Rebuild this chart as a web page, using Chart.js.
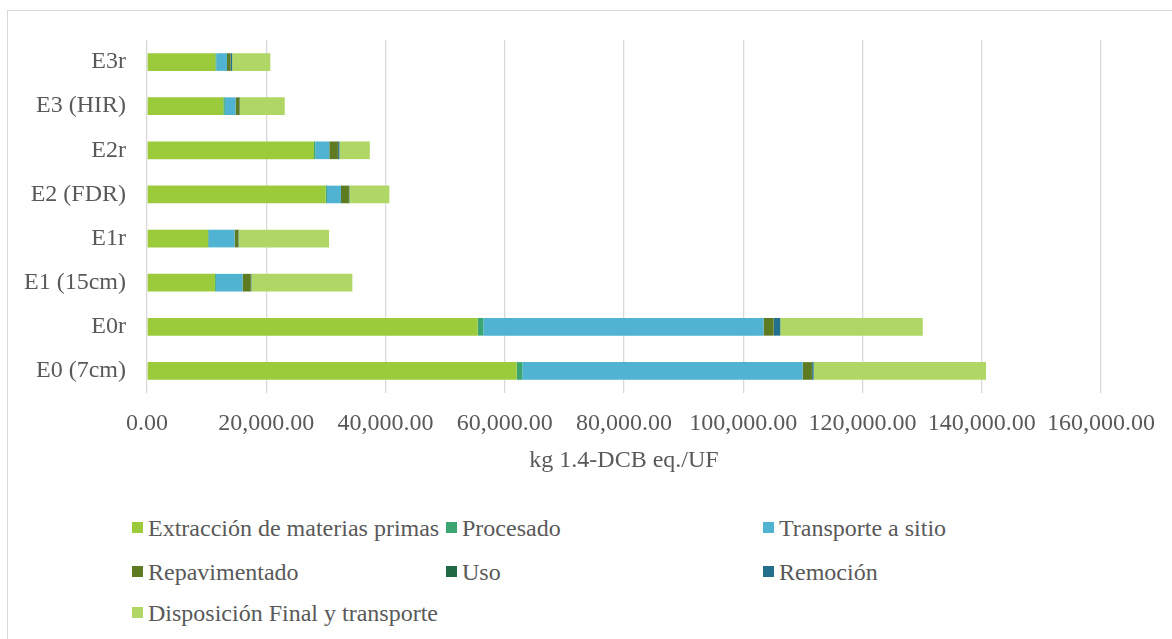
<!DOCTYPE html>
<html>
<head>
<meta charset="utf-8">
<script src="https://cdn.jsdelivr.net/npm/chart.js@4.4.1/dist/chart.umd.min.js"></script>
<style>
	html, body { margin: 0; padding: 0; background: #fff; overflow: hidden; }
	#wrap { position: relative; width: 1172px; height: 639px; overflow: hidden; }
	#frame { position: absolute; left: 7px; top: 10px; width: 1200px; height: 700px; border: 1px solid #d9d9d9; }
	#myChart { position: absolute; left: 0; top: 0; }
	#legend { position: absolute; left: 0; top: 0; }
	.lg-item { position: absolute; height: 30px; line-height: 30px; white-space: nowrap;
		font-family: "Liberation Serif", "Times New Roman", serif; font-size: 24px; color: #595959; }
	.lg-box { position: absolute; left: 0; top: 9px; width: 11px; height: 11px; }
	.lg-text { position: absolute; left: 16px; top: 0; }
</style>
</head>
<body>
<div id="wrap">
	<div id="frame"></div>
	<canvas id="myChart" width="1172" height="500"></canvas>
	<div id="legend"></div>
</div>
<script>
// categories, bottom (E0) to top (E3r), same order as the source sheet
const categories = ["E0 (7cm)", "E0r", "E1 (15cm)", "E1r", "E2 (FDR)", "E2r", "E3 (HIR)", "E3r"];

const extraccion  = [62000, 55450, 11400, 10230, 29960, 28000, 12800, 11460];
const procesado   = [960, 960, 150, 100, 220, 220, 250, 150];
const transporte  = [47000, 47000, 4470, 4360, 2350, 2350, 1800, 1800];
const repavimento = [1560, 1680, 1400, 615, 1340, 1450, 670, 600];
const uso         = [40, 40, 20, 20, 30, 30, 20, 20];
const remocion    = [240, 1080, 60, 60, 50, 220, 60, 250];
const disposicion = [28920, 23900, 16940, 15150, 6700, 5100, 7500, 6400];

const seriesNames = ["Extracción de materias primas", "Procesado", "Transporte a sitio",
	"Repavimentado", "Uso", "Remoción", "Disposición Final y transporte"];

const xTicks = { min: 0, max: 160000, step: 20000 };
const xTitle = "kg 1.4-DCB eq./UF";

let g = {
	colors: ["#9bcb3b", "#3ba671", "#4fb3d1", "#5f7b22", "#1f6a45", "#23708c", "#b0d665"],
	font: "'Liberation Serif', 'Times New Roman', serif",
	text: "#595959",
	chart: {}
};

function buildDatasets() {
	let values = [extraccion, procesado, transporte, repavimento, uso, remocion, disposicion];
	return seriesNames.map((name, i) => ({
		label: name,
		data: values[i],
		backgroundColor: g.colors[i],
		borderWidth: 0,
		categoryPercentage: 1,
		barPercentage: 0.4
	}));
}

// legend laid out in three columns like the original
function drawLegend(chart) {
	let el = document.getElementById("legend");
	let cols = [132, 446, 763];
	let rows = [513, 557, 598];
	el.innerHTML = "";
	chart.data.datasets.forEach((ds, i) => {
		let item = document.createElement("div");
		item.className = "lg-item";
		item.style.left = cols[i % 3] + "px";
		item.style.top = rows[Math.floor(i / 3)] + "px";
		let box = document.createElement("span");
		box.className = "lg-box";
		box.style.background = ds.backgroundColor;
		let txt = document.createElement("span");
		txt.className = "lg-text";
		txt.textContent = ds.label;
		item.appendChild(box);
		item.appendChild(txt);
		el.appendChild(item);
	});
}

function createChart() {
	let ctx = document.getElementById("myChart");
	Chart.defaults.font.family = g.font;
	Chart.defaults.font.size = 24;
	Chart.defaults.color = g.text;

	g.chart = new Chart(ctx, {
		type: "bar",
		data: {
			labels: categories,
			datasets: buildDatasets()
		},
		options: {
			indexAxis: "y",
			responsive: false,
			animation: false,
			devicePixelRatio: 1,
			layout: { padding: { top: 40, right: 71, bottom: 22, left: 0 } },
			plugins: {
				legend: { display: false },
				tooltip: { enabled: false }
			},
			scales: {
				x: {
					stacked: true,
					min: xTicks.min,
					max: xTicks.max,
					ticks: {
						stepSize: xTicks.step,
						padding: 16,
						maxRotation: 0,
						callback: v => Number(v).toLocaleString("en-US", { minimumFractionDigits: 2, maximumFractionDigits: 2 })
					},
					grid: { color: "#d9d9d9", lineWidth: 1.3, drawTicks: false },
					border: { display: false },
					title: { display: true, text: xTitle, padding: { top: 0, bottom: 3 } },
					afterFit: s => { s.height = 85; }
				},
				y: {
					stacked: true,
					reverse: true,
					ticks: { padding: 21 },
					grid: { display: false, drawTicks: false },
					border: { display: false },
					afterFit: s => { s.width = 147; }
				}
			}
		},
		plugins: [{
			id: "htmlLegend",
			afterUpdate: chart => drawLegend(chart)
		}]
	});
}

createChart();
</script>
</body>
</html>
